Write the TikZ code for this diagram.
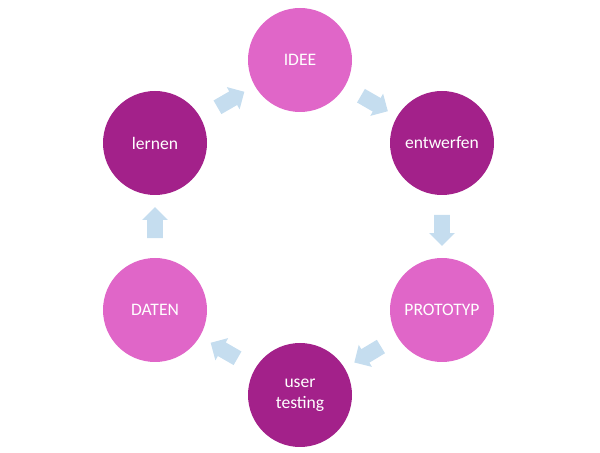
\documentclass[tikz,border=0pt]{standalone}
\usepackage{fontspec}
\setmainfont{Carlito}
\usetikzlibrary{shapes.arrows,calc}

\begin{document}
\begin{tikzpicture}
    \tikzstyle{phase}=[
      circle,
      minimum size=2.08cm,
      text=white,
      font=\fontsize{10}{12}\selectfont,
      align=center,
    ]
    \tikzstyle{light}=[phase, fill=pinkA]
    \tikzstyle{dark}=[phase, fill=purpleA]
    \tikzstyle{flow}=[
      single arrow,
      fill=blueA,
      minimum height=0.62cm,
      inner xsep=0pt,
      inner ysep=0.15cm,
      single arrow head extend=0.1cm,
      single arrow head indent=0pt,
    ]
    \definecolor{pinkA}{HTML}{E066C8}
    \definecolor{purpleA}{HTML}{A3218A}
    \definecolor{blueA}{HTML}{C5DDEF}

    \useasboundingbox (0,0) rectangle (12,9.06);

    % cycle
    {
      \node[light] (idee) at (6.0,7.86) {IDEE};
      \node[dark] (entwerfen) at (8.84,6.2) {entwerfen};
      \node[light] (prototyp) at (8.84,2.86) {PROTOTYP};
      \node[dark] (testing) at (6.0,1.16) {user\\testing};
      \node[light] (daten) at (3.1,2.86) {DATEN};
      \node[dark] (lernen) at (3.1,6.2) {lernen};
    }

    % arrows
    {
      \node[flow, rotate=-30] (a1) at ($(idee)!0.5!(entwerfen)$) {};
      \node[flow, rotate=-90] (a2) at ($(entwerfen)!0.5!(prototyp)$) {};
      \node[flow, rotate=-149] (a3) at ($(prototyp)!0.5!(testing)$) {};
      \node[flow, rotate=150] (a4) at ($(testing)!0.5!(daten)$) {};
      \node[flow, rotate=90] (a5) at ($(daten)!0.5!(lernen)$) {};
      \node[flow, rotate=30] (a6) at ($(lernen)!0.5!(idee)$) {};
    }
\end{tikzpicture}
\end{document}
